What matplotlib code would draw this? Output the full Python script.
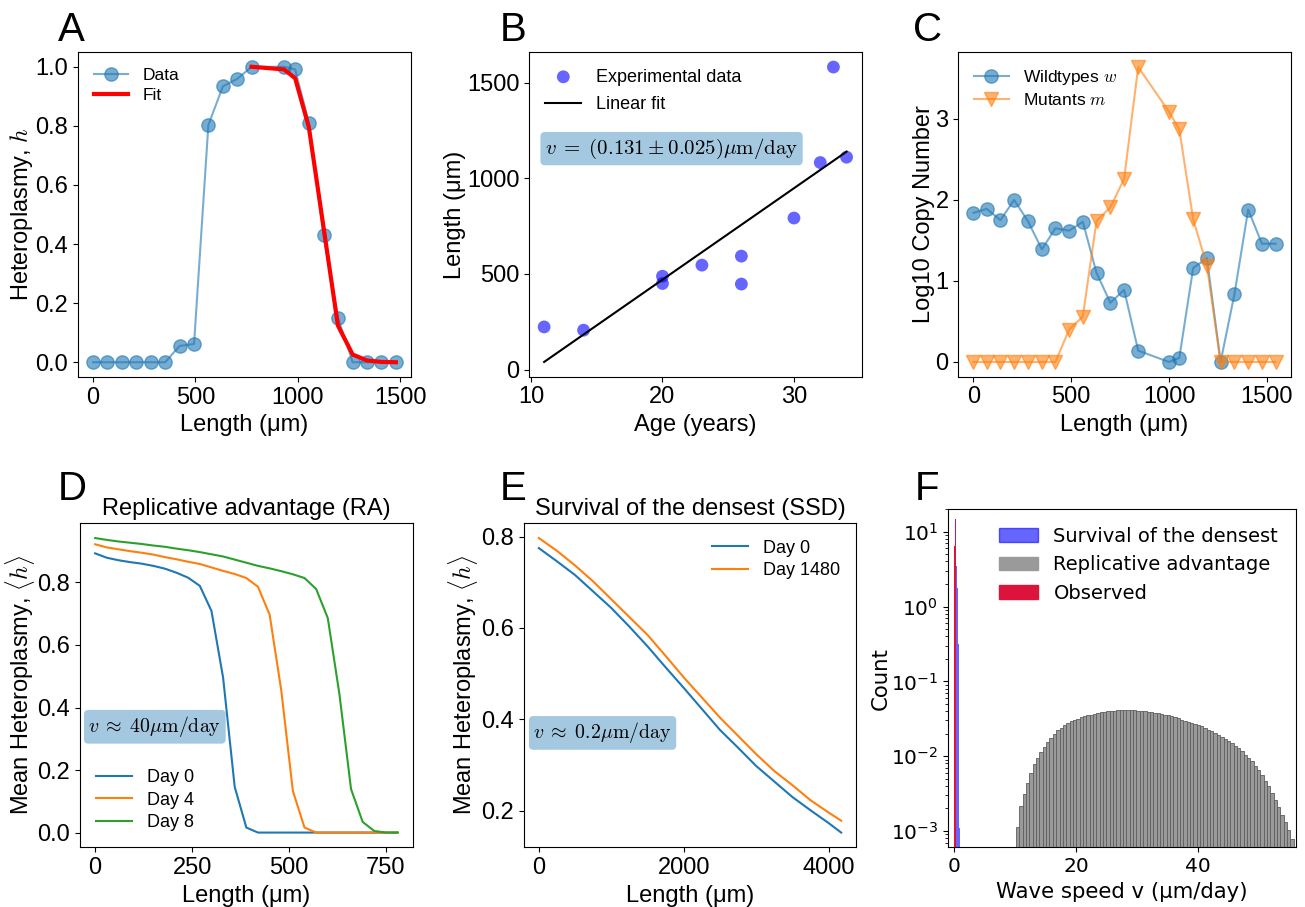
import numpy as np
import matplotlib
matplotlib.use("Agg")
import matplotlib.pyplot as plt
from matplotlib.patches import Patch

plt.rcParams["font.family"] = ["Liberation Sans", "DejaVu Sans"]
plt.rcParams["mathtext.fontset"] = "cm"

# --- A: heteroplasmy profile along a fibre
a_length = [0, 70, 141, 211, 282, 352, 422, 493, 563, 634, 704, 774,
            933, 987, 1054, 1126, 1196, 1268, 1338, 1408, 1479]
a_het = [0, 0, 0, 0, 0, 0, 0.055, 0.062, 0.803, 0.934, 0.959, 1.0,
         1.0, 0.991, 0.81, 0.429, 0.151, 0, 0, 0, 0]
a_fit_length = [774, 933, 987, 1054, 1126, 1196, 1268, 1338, 1408, 1479]
a_fit_het = [1.0, 0.991, 0.961, 0.795, 0.455, 0.124, 0.026, 0.006, 0.001, 0.0]

# --- B: deletion length vs age
b_age = [11, 14, 20, 20, 23, 26, 26, 30, 32, 33, 34]
b_len = [223, 206, 488, 450, 546, 593, 447, 792, 1082, 1581, 1110]
b_fit_age = [11, 34]
b_fit_len = [40, 1139]

# --- C: copy numbers
c_length = [0, 68, 138, 208, 278, 350, 419, 489, 559, 629, 700, 770, 842,
            999, 1052, 1123, 1193, 1263, 1334, 1404, 1474, 1544]
c_wild = [1.84, 1.89, 1.75, 2.0, 1.74, 1.39, 1.65, 1.62, 1.73, 1.10, 0.73,
          0.89, 0.14, 0.0, 0.05, 1.16, 1.28, 0.0, 0.84, 1.88, 1.46, 1.46]
c_mut = [0, 0, 0, 0, 0, 0, 0, 0.40, 0.56, 1.74, 1.91, 2.26, 3.64, 3.09,
         2.87, 1.76, 1.19, 0, 0, 0, 0, 0]

# --- D: replicative advantage simulation
d_length = np.arange(0, 781, 30)
d_day0 = [0.893, 0.879, 0.871, 0.865, 0.860, 0.853, 0.844, 0.831, 0.815,
          0.789, 0.709, 0.496, 0.146, 0.016, 0, 0, 0, 0, 0, 0, 0, 0, 0, 0,
          0, 0, 0]
d_day4 = [0.922, 0.912, 0.906, 0.900, 0.895, 0.889, 0.881, 0.874, 0.866,
          0.859, 0.848, 0.837, 0.827, 0.814, 0.786, 0.697, 0.455, 0.133,
          0.016, 0, 0, 0, 0, 0, 0, 0, 0]
d_day8 = [0.942, 0.936, 0.931, 0.927, 0.923, 0.918, 0.914, 0.908, 0.903,
          0.897, 0.890, 0.883, 0.873, 0.863, 0.853, 0.845, 0.836, 0.826,
          0.814, 0.779, 0.686, 0.443, 0.139, 0.034, 0.005, 0, 0]

# --- E: survival of the densest simulation
e_length = [0, 250, 500, 750, 1000, 1250, 1500, 1750, 2000, 2250, 2500,
            2750, 3000, 3250, 3500, 3750, 4000, 4175]
e_day0 = [0.775, 0.746, 0.716, 0.680, 0.644, 0.603, 0.560, 0.514, 0.469,
          0.423, 0.377, 0.338, 0.298, 0.264, 0.230, 0.201, 0.173, 0.152]
e_day1480 = [0.797, 0.769, 0.737, 0.702, 0.663, 0.624, 0.585, 0.539, 0.492,
             0.448, 0.404, 0.364, 0.324, 0.287, 0.256, 0.223, 0.196, 0.178]

# --- F: wave speed histograms
ssd_edges = [0.0, 0.117, 0.234, 0.351, 0.468, 0.585, 0.702, 0.819, 0.936]
ssd_counts = [6.0, 6.2, 5.8, 3.5, 1.76, 0.32, 0.029, 0.0011]
obs_edges = [-0.05, 0.08, 0.21]
obs_counts = [6.4, 14.6]
ra_start, ra_width = 10.14, 0.55
ra_log10 = [-2.95, -2.67, -2.51, -2.36, -2.22, -2.10, -2.02, -1.95, -1.875,
            -1.81, -1.755, -1.70, -1.655, -1.62, -1.58, -1.555, -1.535,
            -1.513, -1.497, -1.482, -1.468, -1.455, -1.443, -1.432, -1.422,
            -1.414, -1.408, -1.402, -1.396, -1.392, -1.389, -1.387, -1.386,
            -1.386, -1.387, -1.389, -1.392, -1.395, -1.400, -1.406, -1.413,
            -1.420, -1.427, -1.435, -1.445, -1.455, -1.466, -1.480, -1.495,
            -1.510, -1.525, -1.540, -1.555, -1.570, -1.585, -1.600, -1.622,
            -1.645, -1.667, -1.692, -1.717, -1.742, -1.769, -1.796, -1.822,
            -1.860, -1.897, -1.933, -1.978, -2.022, -2.067, -2.126, -2.185,
            -2.25, -2.33, -2.40, -2.49, -2.58, -2.68, -2.78, -2.88, -2.98,
            -3.11]

TICK = 17
LABEL = 17
LEG = 13
YPAD = 0.5
BOX = dict(boxstyle="round,pad=0.22", fc="tab:blue", ec="none", alpha=0.4)

fig = plt.figure(figsize=(13.05, 9.07), dpi=100)
W, H = 1305.0, 907.0


def add_ax(left, top, right, bottom):
    return fig.add_axes([left / W, 1 - bottom / H, (right - left) / W, (bottom - top) / H])


def letter(x, y, s):
    fig.text(x / W, 1 - y / H, s, fontsize=29, ha="left", va="baseline")


# A
ax = add_ax(78, 52, 411, 377)
ax.plot(a_length, a_het, "o-", color="tab:blue", alpha=0.6, ms=9.6, lw=1.5, label="Data")
ax.plot(a_fit_length, a_fit_het, color="red", lw=3, label="Fit")
ax.set_xticks([0, 500, 1000, 1500])
ax.set_yticks([0, 0.2, 0.4, 0.6, 0.8, 1.0])
ax.tick_params(labelsize=TICK)
ax.set_xlabel("Length (μm)", fontsize=LABEL)
ax.set_ylabel("Heteroplasmy, $h$", fontsize=LABEL, labelpad=YPAD)
ax.legend(loc="upper left", frameon=False, fontsize=12.5, labelspacing=0.3)
letter(58, 40.7, "A")

# B
ax = add_ax(529, 52.3, 861.7, 376.7)
sc = ax.scatter(b_age, b_len, s=85, color="blue", alpha=0.6, edgecolors="none")
ln, = ax.plot(b_fit_age, b_fit_len, color="black", lw=1.5)
ax.set_xticks([10, 20, 30])
ax.set_yticks([0, 500, 1000, 1500])
ax.tick_params(labelsize=TICK)
ax.set_xlabel("Age (years)", fontsize=LABEL)
ax.set_ylabel("Length (μm)", fontsize=LABEL, labelpad=YPAD)
ax.legend([sc, ln], ["Experimental data", "Linear fit"], loc="upper left",
          frameon=False, fontsize=LEG, labelspacing=0.6)
ax.text(0.048, 0.703, r"$v\;=\;(0.131 \pm 0.025)\mu\mathrm{m}/\mathrm{day}$",
        transform=ax.transAxes, fontsize=15, va="center", bbox=BOX)
letter(500, 40.7, "B")

# C
ax = add_ax(958.3, 52.3, 1290.7, 376.7)
ax.plot(c_length, c_wild, "o-", color="tab:blue", alpha=0.6, ms=9.6, lw=1.5, label=r"Wildtypes $w$")
ax.plot(c_length, c_mut, "v-", color="tab:orange", alpha=0.6, ms=9.6, lw=1.5, label=r"Mutants $m$")
ax.set_xticks([0, 500, 1000, 1500])
ax.set_yticks([0, 1, 2, 3])
ax.tick_params(labelsize=TICK)
ax.set_xlabel("Length (μm)", fontsize=LABEL)
ax.set_ylabel("Log10 Copy Number", fontsize=LABEL, labelpad=YPAD)
ax.legend(loc="upper left", frameon=False, fontsize=12.5, labelspacing=0.3)
letter(913, 40.7, "C")

# D
ax = add_ax(80, 523.3, 412.7, 847.3)
ax.plot(d_length, d_day0, lw=1.5, label="Day 0")
ax.plot(d_length, d_day4, lw=1.5, label="Day 4")
ax.plot(d_length, d_day8, lw=1.5, label="Day 8")
ax.set_xticks([0, 250, 500, 750])
ax.set_yticks([0, 0.2, 0.4, 0.6, 0.8])
ax.tick_params(labelsize=TICK)
ax.set_title("Replicative advantage (RA)", fontsize=17)
ax.set_xlabel("Length (μm)", fontsize=LABEL)
ax.set_ylabel(r"Mean Heteroplasmy, $\langle h \rangle$", fontsize=LABEL, labelpad=YPAD)
ax.legend(loc="lower left", frameon=False, fontsize=LEG, labelspacing=0.3)
ax.text(0.025, 0.372, r"$v\;\approx\;40\mu\mathrm{m}/\mathrm{day}$",
        transform=ax.transAxes, fontsize=14.3, va="center", bbox=BOX)
letter(58, 500, "D")

# E
ax = add_ax(523.7, 523.3, 856.3, 847.3)
ax.plot(e_length, e_day0, lw=1.5, label="Day 0")
ax.plot(e_length, e_day1480, lw=1.5, label="Day 1480")
ax.set_xticks([0, 2000, 4000])
ax.set_yticks([0.2, 0.4, 0.6, 0.8])
ax.tick_params(labelsize=TICK)
ax.set_title("Survival of the densest (SSD)", fontsize=17)
ax.set_xlabel("Length (μm)", fontsize=LABEL)
ax.set_ylabel(r"Mean Heteroplasmy, $\langle h \rangle$", fontsize=LABEL, labelpad=YPAD)
ax.legend(loc="upper right", frameon=False, fontsize=LEG, labelspacing=0.3)
ax.text(0.029, 0.353, r"$v\;\approx\;0.2\mu\mathrm{m}/\mathrm{day}$",
        transform=ax.transAxes, fontsize=14.3, va="center", bbox=BOX)
letter(500, 500, "E")

# F
ax = add_ax(947.7, 509, 1295.7, 847.3)
ssd_edges = np.asarray(ssd_edges)
obs_edges = np.asarray(obs_edges)
ra_heights = 10 ** np.asarray(ra_log10)
ra_left = ra_start + ra_width * np.arange(len(ra_heights))
ax.bar(ssd_edges[:-1], ssd_counts, width=np.diff(ssd_edges), align="edge",
       color="blue", alpha=0.6, linewidth=0)
ax.bar(ra_left, ra_heights, width=ra_width, align="edge", color="#9a9a9a",
       edgecolor="#5e5e5e", linewidth=0.6)
ax.bar(obs_edges[:-1], obs_counts, width=np.diff(obs_edges), align="edge",
       color="crimson", linewidth=0)
ax.set_yscale("log")
ax.set_ylim(6.06e-4, 20.1)
ax.set_xlim(-1.08, 56.1)
ax.set_xticks([0, 20, 40])
ax.tick_params(which="both", labelsize=14.5, labelfontfamily="DejaVu Sans")
ax.set_xlabel("Wave speed v (μm/day)", fontsize=15.3, family="DejaVu Sans")
ax.set_ylabel("Count", fontsize=15.3, family="DejaVu Sans", labelpad=0)
handles = [Patch(color="blue", alpha=0.6), Patch(color="#9a9a9a"), Patch(color="crimson")]
ax.legend(handles, ["Survival of the densest", "Replicative advantage", "Observed"],
          loc="upper right", frameon=False, prop={"family": "DejaVu Sans", "size": 14})
letter(915, 500, "F")

fig.savefig("out.png", dpi=100)
